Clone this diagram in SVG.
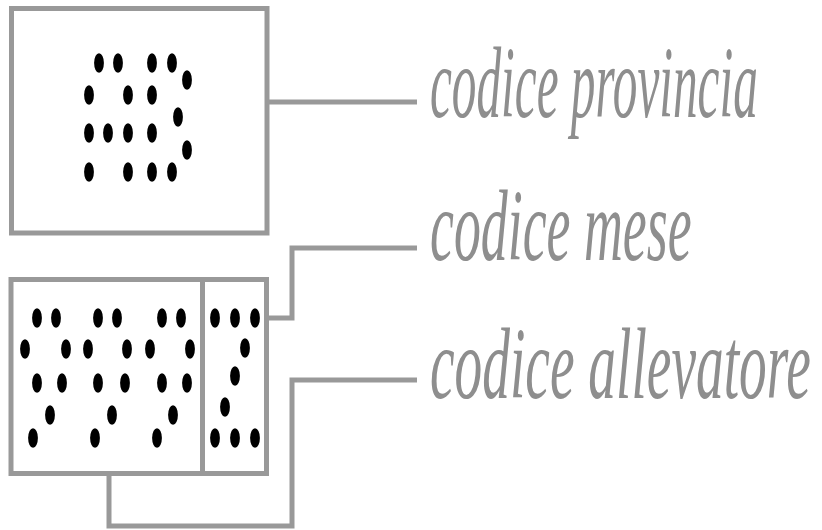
<svg xmlns="http://www.w3.org/2000/svg" xmlns:xlink="http://www.w3.org/1999/xlink" width="822" height="530" viewBox="0 0 822 530">
  <style>
    .frame { fill: none; stroke: #999999; stroke-width: 5; }
    .wire { fill: none; stroke: #999999; stroke-width: 5; }
    .label { font-family: "Liberation Serif", "Times New Roman", serif; font-style: italic; font-size: 102px; fill: #8e8e8e; }
  </style>
  <defs>
    <ellipse id="dot" cx="0" cy="0" rx="4.9" ry="9.8" fill="#000000"/>
  </defs>
  <rect width="822" height="530" fill="#ffffff"/>

  <!-- province code box -->
  <g id="box-provincia">
    <rect class="frame" x="11.5" y="8.5" width="255.5" height="224.5"/>
    <g id="dots-provincia">
      <use xlink:href="#dot" x="99" y="63"/>
      <use xlink:href="#dot" x="118" y="63"/>
      <use xlink:href="#dot" x="152" y="63"/>
      <use xlink:href="#dot" x="172" y="63"/>
      <use xlink:href="#dot" x="187" y="80"/>
      <use xlink:href="#dot" x="89" y="95"/>
      <use xlink:href="#dot" x="128" y="95"/>
      <use xlink:href="#dot" x="152" y="95"/>
      <use xlink:href="#dot" x="178" y="117"/>
      <use xlink:href="#dot" x="89" y="133"/>
      <use xlink:href="#dot" x="108" y="133"/>
      <use xlink:href="#dot" x="128" y="133"/>
      <use xlink:href="#dot" x="152" y="133"/>
      <use xlink:href="#dot" x="187" y="150"/>
      <use xlink:href="#dot" x="89" y="172"/>
      <use xlink:href="#dot" x="128" y="172"/>
      <use xlink:href="#dot" x="152" y="172"/>
      <use xlink:href="#dot" x="172" y="172"/>
    </g>
  </g>

  <!-- breeder + month code box -->
  <g id="box-codice">
    <rect class="frame" x="11" y="279.5" width="255.5" height="194"/>
    <line class="frame" x1="202.5" y1="279.5" x2="202.5" y2="473.5"/>
    <g id="dots-allevatore">
      <use xlink:href="#dot" x="37" y="318"/>
      <use xlink:href="#dot" x="56" y="318"/>
      <use xlink:href="#dot" x="98" y="318"/>
      <use xlink:href="#dot" x="117" y="318"/>
      <use xlink:href="#dot" x="162" y="318"/>
      <use xlink:href="#dot" x="181" y="318"/>
      <use xlink:href="#dot" x="25" y="349"/>
      <use xlink:href="#dot" x="66" y="349"/>
      <use xlink:href="#dot" x="88" y="349"/>
      <use xlink:href="#dot" x="127" y="349"/>
      <use xlink:href="#dot" x="150" y="349"/>
      <use xlink:href="#dot" x="190" y="349"/>
      <use xlink:href="#dot" x="37" y="383"/>
      <use xlink:href="#dot" x="62" y="383"/>
      <use xlink:href="#dot" x="98" y="383"/>
      <use xlink:href="#dot" x="125" y="383"/>
      <use xlink:href="#dot" x="162" y="383"/>
      <use xlink:href="#dot" x="187" y="383"/>
      <use xlink:href="#dot" x="50" y="415"/>
      <use xlink:href="#dot" x="112" y="415"/>
      <use xlink:href="#dot" x="173" y="415"/>
      <use xlink:href="#dot" x="33" y="438"/>
      <use xlink:href="#dot" x="95" y="438"/>
      <use xlink:href="#dot" x="157" y="438"/>
    </g>
    <g id="dots-mese">
      <use xlink:href="#dot" x="215" y="318"/>
      <use xlink:href="#dot" x="235" y="318"/>
      <use xlink:href="#dot" x="255" y="318"/>
      <use xlink:href="#dot" x="245" y="348"/>
      <use xlink:href="#dot" x="235" y="376"/>
      <use xlink:href="#dot" x="225" y="407"/>
      <use xlink:href="#dot" x="215" y="438"/>
      <use xlink:href="#dot" x="235" y="438"/>
      <use xlink:href="#dot" x="255" y="438"/>
    </g>
  </g>

  <!-- leader lines -->
  <g id="connectors">
    <path class="wire" d="M267 102 H417"/>
    <path class="wire" d="M266 318 H292 V248 H417"/>
    <path class="wire" d="M109 473 V526 H292 V380 H417"/>
  </g>

  <!-- labels, condensed horizontally -->
  <g id="label-provincia" transform="translate(430 117) scale(0.483 1)">
    <text class="label" x="0" y="0">codice provincia</text>
  </g>
  <g id="label-mese" transform="translate(430 260) scale(0.528 1)">
    <text class="label" x="0" y="0">codice mese</text>
  </g>
  <g id="label-allevatore" transform="translate(430 398) scale(0.543 1)">
    <text class="label" x="0" y="0">codice allevatore</text>
  </g>
</svg>
